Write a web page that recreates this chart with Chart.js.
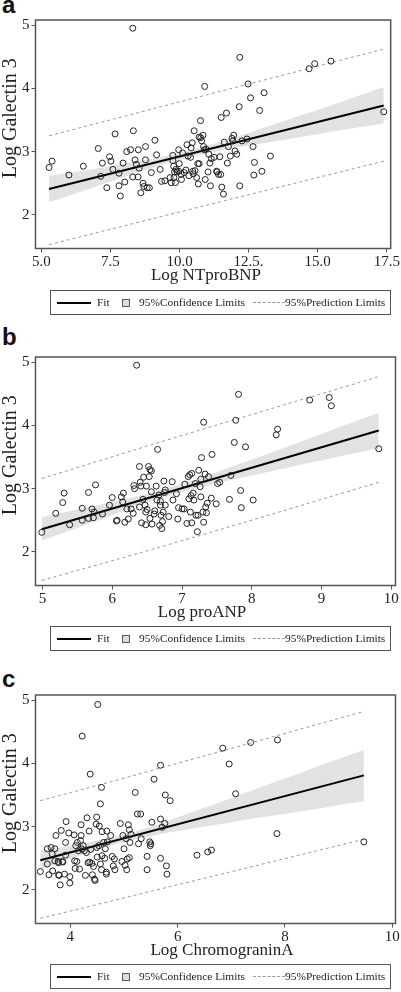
<!DOCTYPE html>
<html>
<head>
<meta charset="utf-8">
<script src="https://cdn.jsdelivr.net/npm/chart.js@4.4.0/dist/chart.umd.min.js"></script>
<style>
  body { margin: 0; background: #fff; width: 401px; height: 992px; position: relative; overflow: hidden; }
  canvas { position: absolute; left: 0; }
  .tag { position: absolute; left: 2px; font: bold 24px 'Liberation Sans', Arial, sans-serif; line-height: 24px; color: #111; }
  .legend { position: absolute; left: 50px; width: 339px; height: 23px; border: 1px solid #555;
            font-family: 'Liberation Serif', serif; font-size: 11.4px; color: #222; will-change: transform; }
  .legend span { position: absolute; top: 4.5px; white-space: nowrap; }
  .legend .solid { position: absolute; top: 11px; left: 6px; width: 34px; height: 2px; background: #000; }
  .legend .box { position: absolute; top: 8px; left: 71px; width: 6px; height: 6px; background: #ddd; border: 1px solid #555; }
  .legend .dash { position: absolute; top: 11px; left: 202px; width: 32px; border-top: 1px dashed #999; }
</style>
</head>
<body>
<div class="tag" style="top:-7px">a</div>
<div class="tag" style="top:325px">b</div>
<div class="tag" style="top:667px">c</div>
<canvas id="chartA" width="401" height="287" style="top:0px"></canvas>
<canvas id="chartB" width="401" height="287" style="top:337px"></canvas>
<canvas id="chartC" width="401" height="287" style="top:675px"></canvas>
<script>
// panel a: Log NTproBNP vs Log Galectin 3
const ntprobnp = [5.28,5.39,6.00,6.52,7.06,7.15,7.21,7.37,7.47,7.52,
  7.59,7.67,7.81,7.81,7.86,7.96,8.02,8.09,8.23,8.33,
  8.31,8.39,8.44,8.50,8.51,8.54,8.60,8.68,8.71,8.77,
  8.77,8.83,8.91,8.98,9.11,9.17,9.30,9.35,9.47,9.66,
  9.70,9.76,9.76,9.79,9.80,9.82,9.85,9.87,9.91,9.97,
  9.97,9.99,10.06,10.07,10.11,10.17,10.23,10.27,10.31,10.34,
  10.40,10.42,10.46,10.48,10.50,10.53,10.56,10.62,10.66,10.71,
  10.68,10.71,10.76,10.77,10.80,10.85,10.87,10.90,10.91,10.93,
  10.96,11.03,11.06,11.10,11.12,11.15,11.25,11.34,11.36,11.41,
  11.46,11.49,11.51,11.53,11.59,11.62,11.70,11.73,11.77,11.84,
  11.90,11.93,11.96,12.01,12.07,12.16,12.18,12.18,12.26,12.44,
  12.48,12.57,12.66,12.69,12.71,12.90,12.98,13.06,13.29,14.69,
  14.89,15.48,17.39,8.31];
const galectinA = [2.75,2.85,2.63,2.77,3.05,2.61,2.82,2.43,2.92,2.85,
  2.72,3.28,2.66,2.46,2.30,2.82,2.52,3.00,3.03,3.33,
  2.60,2.87,2.80,2.60,3.03,2.74,2.35,2.50,2.45,3.08,
  2.87,2.43,2.43,2.67,3.18,2.95,2.72,2.53,2.54,2.59,
  2.51,2.94,2.86,2.77,2.59,2.68,2.51,2.72,2.68,2.69,
  3.03,2.81,2.64,2.56,2.98,2.67,2.71,3.11,2.93,2.62,
  2.91,3.06,3.14,2.69,2.65,3.33,2.70,2.59,2.81,2.81,
  2.49,3.23,3.49,3.22,3.17,3.26,3.08,3.03,4.03,2.56,
  3.04,2.68,2.96,2.82,2.46,2.89,2.91,2.69,2.68,2.64,
  2.92,2.64,3.54,2.44,2.33,3.15,3.61,2.82,3.08,2.93,
  3.21,3.17,3.26,3.01,2.96,3.71,2.46,4.49,3.17,3.20,
  4.07,3.85,3.08,2.63,2.83,3.65,2.69,3.93,2.93,4.31,
  4.39,4.43,3.63,4.95];
const fitXA = [5.28, 17.39];
const fitYA = [2.41, 3.73];
const bandXA = [5.28, 6.5, 8.0, 9.5, 10.3, 11.5, 13.0, 14.5, 16.0, 17.39];
const bandLowA = [2.20, 2.38, 2.60, 2.81, 2.90, 3.02, 3.13, 3.24, 3.35, 3.45];
const bandHighA = [2.62, 2.70, 2.81, 2.93, 3.01, 3.16, 3.37, 3.59, 3.81, 4.02];
const predXA = [5.28, 10.3, 17.39];
const predUpA = [3.25, 3.82, 4.62];
const predLowA = [1.53, 2.08, 2.85];
const xTicksA = [5, 7.5, 10, 12.5, 15, 17.5];
const xLabelsA = ['5.0', '7.5', '10.0', '12.5.', '15.0', '17.5'];

// panel b: Log proANP vs Log Galectin 3
const proanp = [4.99,5.19,5.29,5.31,5.39,5.57,5.57,5.66,5.66,5.71,
  5.73,5.74,5.76,5.86,5.96,6.00,6.06,6.07,6.13,6.15,
  6.16,6.18,6.21,6.23,6.27,6.30,6.31,6.32,6.35,6.39,
  6.39,6.40,6.41,6.42,6.44,6.45,6.47,6.48,6.48,6.49,
  6.50,6.52,6.53,6.54,6.54,6.56,6.56,6.57,6.60,6.61,
  6.63,6.64,6.65,6.67,6.68,6.69,6.69,6.70,6.71,6.72,
  6.73,6.74,6.75,6.76,6.76,6.81,6.86,6.87,6.92,6.94,
  6.95,7.00,7.03,7.04,7.07,7.09,7.10,7.11,7.12,7.13,
  7.14,7.14,7.16,7.17,7.19,7.20,7.22,7.23,7.24,7.26,
  7.27,7.27,7.28,7.30,7.31,7.31,7.33,7.34,7.35,7.36,
  7.38,7.42,7.43,7.49,7.51,7.54,7.68,7.70,7.75,7.77,
  7.81,7.84,7.85,7.91,8.02,8.35,8.37,8.83,9.11,9.14,
  9.82];
const galectinB = [2.31,2.61,2.78,2.93,2.43,2.69,2.50,2.94,2.53,2.68,
  2.54,2.63,3.06,2.60,2.74,2.86,2.49,2.50,2.87,2.79,
  2.93,2.47,2.68,2.52,2.68,2.61,3.05,3.00,4.95,2.71,
  3.35,3.10,3.04,2.46,2.83,3.18,2.74,2.63,2.43,3.04,
  2.67,3.35,3.19,2.53,3.30,3.28,2.95,2.44,2.60,2.65,
  3.04,2.82,3.62,2.90,2.42,2.74,2.80,2.58,2.37,2.48,
  2.63,3.12,2.94,2.74,2.98,2.56,3.11,2.82,2.92,2.52,
  2.70,2.68,2.68,3.07,2.45,3.19,2.84,3.22,2.63,2.89,
  2.46,3.24,2.93,2.82,3.08,2.58,2.32,2.58,3.29,3.03,
  3.15,2.87,3.49,2.63,4.05,2.47,3.23,2.71,2.62,2.77,
  3.19,2.85,3.54,2.76,3.08,3.10,2.83,3.21,3.73,4.08,
  4.49,2.97,2.70,3.66,2.82,3.85,3.94,4.40,4.44,4.31,
  3.63];
const fitXB = [4.99, 9.82];
const fitYB = [2.36, 3.92];
const bandXB = [4.99, 5.5, 6.0, 6.5, 6.85, 7.3, 7.8, 8.3, 8.8, 9.3, 9.82];
const bandLowB = [2.18, 2.38, 2.58, 2.78, 2.90, 3.03, 3.16, 3.28, 3.40, 3.52, 3.64];
const bandHighB = [2.55, 2.67, 2.79, 2.92, 3.03, 3.18, 3.38, 3.58, 3.78, 3.99, 4.20];
const predXB = [4.99, 6.85, 9.82];
const predUpB = [3.16, 3.79, 4.77];
const predLowB = [1.55, 2.13, 3.10];
const xTicksB = [5, 6, 7, 8, 9, 10];
const xLabelsB = ['5', '6', '7', '8', '9', '10'];

// panel c: Log ChromograninA vs Log Galectin 3
const chromogranin = [3.44,3.57,3.57,3.60,3.64,3.66,3.67,3.71,3.71,3.73,
  3.77,3.78,3.78,3.79,3.81,3.83,3.85,3.86,3.89,3.91,
  3.91,3.92,3.97,3.99,3.99,4.07,4.08,4.09,4.10,4.12,
  4.13,4.15,4.17,4.19,4.20,4.20,4.21,4.22,4.24,4.26,
  4.28,4.30,4.31,4.33,4.35,4.36,4.37,4.38,4.40,4.41,
  4.43,4.45,4.46,4.48,4.49,4.49,4.50,4.51,4.53,4.54,
  4.56,4.56,4.58,4.58,4.59,4.59,4.62,4.64,4.65,4.67,
  4.67,4.68,4.69,4.75,4.78,4.80,4.82,4.83,4.93,4.96,
  4.98,5.00,5.02,5.04,5.05,5.06,5.08,5.10,5.10,5.11,
  5.13,5.21,5.25,5.27,5.31,5.32,5.43,5.43,5.48,5.49,
  5.50,5.52,5.56,5.68,5.68,5.68,5.71,5.76,5.77,5.79,
  5.80,5.86,6.36,6.56,6.63,6.84,6.96,7.08,7.36,7.85,
  7.86,9.47];
const galectinC = [2.29,2.65,2.41,2.24,2.67,2.57,2.30,2.65,2.46,2.86,
  2.45,2.24,2.43,2.23,2.08,2.94,2.45,2.44,2.25,2.55,
  2.75,3.08,2.90,2.21,2.11,2.87,2.46,2.34,2.70,2.45,
  2.75,2.62,2.33,2.78,3.03,2.86,2.65,4.43,2.70,2.62,
  2.23,2.59,3.14,2.43,2.93,2.44,3.83,2.64,2.42,2.24,
  2.37,2.17,2.15,3.04,3.15,2.67,2.52,4.93,2.70,3.01,
  3.36,2.41,3.62,2.32,2.54,2.92,2.75,2.50,2.65,2.28,
  2.25,2.93,2.76,2.86,2.53,2.38,2.49,2.32,3.05,2.45,
  2.86,2.65,2.39,2.81,2.32,2.49,3.03,2.51,2.95,2.75,
  2.88,3.54,3.20,2.73,3.20,2.81,2.32,2.53,2.76,2.70,
  2.73,3.07,3.75,3.12,2.50,3.97,2.99,3.05,3.50,2.38,
  2.25,3.41,2.55,2.60,2.63,4.24,3.99,3.52,4.33,2.89,
  4.37,2.76];
const fitXC = [3.44, 9.47];
const fitYC = [2.47, 3.81];
const bandXC = [3.44, 4.0, 4.5, 4.93, 5.5, 6.0, 6.5, 7.0, 7.5, 8.0, 8.5, 9.0, 9.47];
const bandLowC = [2.32, 2.49, 2.63, 2.74, 2.85, 2.93, 3.00, 3.07, 3.14, 3.20, 3.27, 3.34, 3.40];
const bandHighC = [2.62, 2.70, 2.78, 2.86, 3.00, 3.15, 3.30, 3.45, 3.61, 3.76, 3.92, 4.07, 4.21];
const predXC = [3.44, 4.93, 9.47];
const predUpC = [3.41, 3.75, 4.82];
const predLowC = [1.55, 1.86, 2.80];
const xTicksC = [4, 6, 8, 10];
const xLabelsC = ['4', '6', '8', '10'];

const yTicks = [2, 3, 4, 5];
const yLabels = ['2', '3', '4', '5'];

function zip(xs, ys) {
  return xs.map((x, i) => ({ x: x, y: ys[i] }));
}

// box round the plot area
const framePlugin = {
  id: 'frame',
  afterDraw(chart) {
    const { ctx, chartArea: a } = chart;
    ctx.save();
    ctx.strokeStyle = '#555';
    ctx.lineWidth = 1.5;
    ctx.strokeRect(a.left, a.top, a.right - a.left, a.bottom - a.top);
    ctx.restore();
  }
};

// axis titles sit a little off-centre in the original, so draw them here
const titlePlugin = {
  id: 'axisTitles',
  afterDraw(chart, args, o) {
    const { ctx, chartArea: a } = chart;
    ctx.save();
    ctx.fillStyle = '#222';
    ctx.textAlign = 'center';
    ctx.textBaseline = 'middle';
    ctx.font = '17px "Liberation Serif"';
    ctx.fillText(o.x, o.xCenter, a.bottom + 27);
    ctx.translate(11, (a.top + a.bottom) / 2 - 16);
    ctx.rotate(-Math.PI / 2);
    ctx.font = '20px "Liberation Serif"';
    ctx.fillText(o.y, 0, 0);
    ctx.restore();
  }
};

const serif = 'Liberation Serif';

function makePanel(id, p) {
  return new Chart(document.getElementById(id), {
    type: 'scatter',
    data: {
      datasets: [
        { type: 'scatter', data: zip(p.x, p.y), pointRadius: 3, pointBorderWidth: 1,
          pointBorderColor: '#222', pointBackgroundColor: 'rgba(0,0,0,0)', order: 0 },
        { type: 'line', data: zip(p.fitX, p.fitY), borderColor: '#000', borderWidth: 2,
          pointRadius: 0, order: 1 },
        { type: 'line', data: zip(p.bandX, p.bandLow), borderColor: 'rgba(0,0,0,0)', borderWidth: 0,
          pointRadius: 0, fill: false, tension: 0.4, order: 3 },
        { type: 'line', data: zip(p.bandX, p.bandHigh), borderColor: 'rgba(0,0,0,0)', borderWidth: 0,
          pointRadius: 0, fill: '-1', backgroundColor: '#e2e2e2', tension: 0.4, order: 3 },
        { type: 'line', data: zip(p.predX, p.predUp), borderColor: '#999', borderWidth: 1,
          borderDash: [3, 3], pointRadius: 0, tension: 0.4, order: 2 },
        { type: 'line', data: zip(p.predX, p.predLow), borderColor: '#999', borderWidth: 1,
          borderDash: [3, 3], pointRadius: 0, tension: 0.4, order: 2 }
      ]
    },
    options: {
      responsive: false,
      animation: false,
      layout: { padding: { top: 20, right: 5.5, left: 0, bottom: 0 } },
      plugins: {
        legend: { display: false },
        tooltip: { enabled: false },
        axisTitles: { x: p.xTitle, y: 'Log Galectin 3', xCenter: p.xTitleCenter }
      },
      scales: {
        x: {
          type: 'linear', min: p.xMin, max: p.xMax,
          afterBuildTicks: s => { s.ticks = p.xTicks.map(v => ({ value: v })); },
          afterFit: s => { s.height = 38.5; },
          ticks: { callback: (v, i) => p.xLabels[i], font: { family: serif, size: 15 },
                   color: '#222', padding: 1, maxRotation: 0, autoSkip: false },
          grid: { drawOnChartArea: false, drawTicks: true, tickLength: 4, color: '#555' },
          border: { display: false }
        },
        y: {
          min: 1.47, max: 5.08,
          afterBuildTicks: s => { s.ticks = yTicks.map(v => ({ value: v })); },
          afterFit: s => { s.width = 35.5; },
          ticks: { callback: (v, i) => yLabels[i], font: { family: serif, size: 15 },
                   color: '#222', padding: 2 },
          grid: { drawOnChartArea: false, drawTicks: true, tickLength: 4, color: '#555' },
          border: { display: false }
        }
      }
    },
    plugins: [framePlugin, titlePlugin]
  });
}

makePanel('chartA', { x: ntprobnp, y: galectinA, fitX: fitXA, fitY: fitYA,
  bandX: bandXA, bandLow: bandLowA, bandHigh: bandHighA,
  predX: predXA, predUp: predUpA, predLow: predLowA,
  xMin: 4.79, xMax: 17.64, xTicks: xTicksA, xLabels: xLabelsA,
  xTitle: 'Log NTproBNP', xTitleCenter: 206 });

makePanel('chartB', { x: proanp, y: galectinB, fitX: fitXB, fitY: fitYB,
  bandX: bandXB, bandLow: bandLowB, bandHigh: bandHighB,
  predX: predXB, predUp: predUpB, predLow: predLowB,
  xMin: 4.9, xMax: 10.06, xTicks: xTicksB, xLabels: xLabelsB,
  xTitle: 'Log proANP', xTitleCenter: 202 });

makePanel('chartC', { x: chromogranin, y: galectinC, fitX: fitXC, fitY: fitYC,
  bandX: bandXC, bandLow: bandLowC, bandHigh: bandHighC,
  predX: predXC, predUp: predUpC, predLow: predLowC,
  xMin: 3.35, xMax: 10.06, xTicks: xTicksC, xLabels: xLabelsC,
  xTitle: 'Log ChromograninA', xTitleCenter: 222 });

// legends below each panel
function addLegend(top) {
  const d = document.createElement('div');
  d.className = 'legend';
  d.style.top = top + 'px';
  d.innerHTML = '<div class="solid"></div><span style="left:46px">Fit</span>' +
    '<div class="box"></div><span style="left:88px">95%Confidence Limits</span>' +
    '<div class="dash"></div><span style="left:234px">95%Prediction Limits</span>';
  document.body.appendChild(d);
}
addLegend(290);
addLegend(626);
addLegend(964);
</script>
</body>
</html>
